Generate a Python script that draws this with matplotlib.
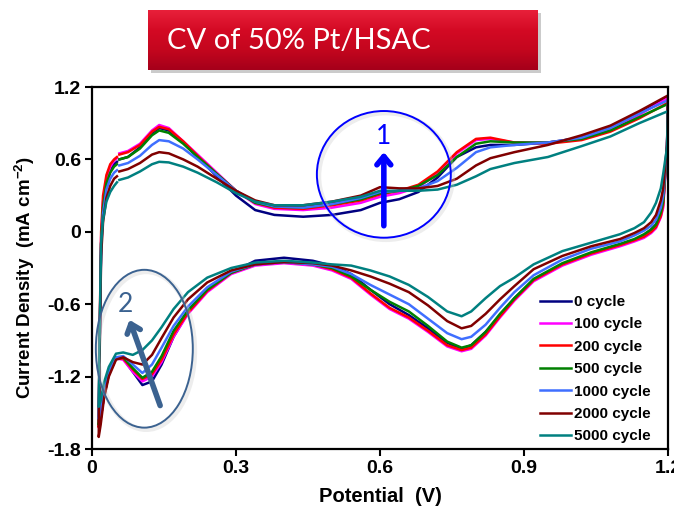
import numpy as np
import matplotlib
matplotlib.use("Agg")
import matplotlib.pyplot as plt
from matplotlib.patches import Ellipse
from matplotlib.colors import LinearSegmentedColormap

plt.rcParams['font.family'] = ['Liberation Sans', 'DejaVu Sans']
plt.rcParams['axes.unicode_minus'] = False
plt.rcParams['mathtext.fontset'] = 'custom'
plt.rcParams['mathtext.rm'] = 'Liberation Sans'
plt.rcParams['mathtext.bf'] = 'Liberation Sans:bold'

# ---------------- data ----------------
labels = ['0 cycle', '100 cycle', '200 cycle', '500 cycle', '1000 cycle', '2000 cycle', '5000 cycle']
colors = ['#000080', '#FF00FF', '#FF0000', '#008000', '#3F6FFF', '#800000', '#008080']

# anodic sweep, first short segment (before the small gap)
x_an1 = [0.016, 0.019, 0.023, 0.03, 0.038, 0.046, 0.052]
an1_0 = [-0.9, -0.1, 0.2, 0.40, 0.50, 0.56, 0.58]
an1_100 = [-0.9, -0.05, 0.25, 0.44, 0.54, 0.59, 0.61]
an1_200 = [-0.8, 0.0, 0.3, 0.47, 0.56, 0.60, 0.62]
an1_500 = [-0.9, -0.1, 0.2, 0.40, 0.49, 0.54, 0.56]
an1_1000 = [-0.95, -0.15, 0.15, 0.35, 0.44, 0.49, 0.51]
an1_2000 = [-1.0, -0.2, 0.08, 0.28, 0.38, 0.44, 0.46]
an1_5000 = [-0.8, -0.1, 0.1, 0.25, 0.33, 0.38, 0.41]

# anodic sweep, main segment
x_an2 = [0.057, 0.075, 0.1, 0.125, 0.14, 0.16, 0.19, 0.22, 0.26, 0.3, 0.34, 0.38, 0.44, 0.5,
         0.56, 0.6, 0.64, 0.68, 0.72, 0.76, 0.8, 0.83, 0.88, 0.95, 1.02, 1.08, 1.14, 1.2]
an2_0 = [0.60, 0.62, 0.70, 0.82, 0.86, 0.84, 0.74, 0.62, 0.46, 0.30, 0.18, 0.14, 0.125, 0.14,
         0.18, 0.24, 0.27, 0.33, 0.45, 0.62, 0.70, 0.72, 0.72, 0.74, 0.78, 0.86, 0.98, 1.12]
an2_100 = [0.65, 0.67, 0.73, 0.84, 0.885, 0.86, 0.75, 0.64, 0.49, 0.34, 0.23, 0.19, 0.18, 0.20,
           0.24, 0.29, 0.32, 0.37, 0.48, 0.65, 0.76, 0.77, 0.74, 0.74, 0.77, 0.85, 0.97, 1.11]
an2_200 = [0.64, 0.66, 0.72, 0.83, 0.87, 0.85, 0.75, 0.63, 0.48, 0.34, 0.24, 0.20, 0.19, 0.22,
           0.26, 0.31, 0.34, 0.39, 0.50, 0.66, 0.77, 0.78, 0.74, 0.73, 0.76, 0.83, 0.94, 1.07]
an2_500 = [0.60, 0.62, 0.69, 0.80, 0.84, 0.82, 0.73, 0.62, 0.48, 0.34, 0.24, 0.21, 0.20, 0.23,
           0.27, 0.32, 0.34, 0.38, 0.47, 0.62, 0.73, 0.75, 0.74, 0.74, 0.77, 0.84, 0.95, 1.06]
an2_1000 = [0.55, 0.57, 0.63, 0.72, 0.76, 0.75, 0.69, 0.60, 0.47, 0.34, 0.25, 0.21, 0.20, 0.23,
            0.28, 0.33, 0.34, 0.36, 0.42, 0.53, 0.66, 0.70, 0.72, 0.74, 0.78, 0.86, 0.98, 1.09]
an2_2000 = [0.50, 0.52, 0.57, 0.64, 0.66, 0.65, 0.60, 0.54, 0.44, 0.34, 0.26, 0.22, 0.22, 0.25,
            0.30, 0.37, 0.36, 0.36, 0.38, 0.44, 0.55, 0.61, 0.66, 0.72, 0.80, 0.88, 1.00, 1.13]
an2_5000 = [0.43, 0.45, 0.50, 0.56, 0.58, 0.575, 0.54, 0.49, 0.41, 0.32, 0.25, 0.22, 0.22, 0.25,
            0.29, 0.34, 0.34, 0.34, 0.35, 0.39, 0.46, 0.52, 0.57, 0.62, 0.71, 0.79, 0.90, 1.00]

# cathodic sweep
x_ca = [1.2, 1.198, 1.19, 1.185, 1.175, 1.165, 1.15, 1.13, 1.1, 1.04, 0.98, 0.92, 0.88, 0.85,
        0.82, 0.79, 0.77, 0.74, 0.7, 0.66, 0.62, 0.58, 0.54, 0.5, 0.46, 0.4, 0.34, 0.29, 0.24,
        0.2, 0.17, 0.145, 0.125, 0.105, 0.085, 0.065, 0.05, 0.035, 0.025, 0.018, 0.014]
ca_0 = [1.12, 0.70, 0.24, 0.15, 0.06, 0.02, -0.03, -0.07, -0.11, -0.18, -0.27, -0.40, -0.55,
        -0.69, -0.83, -0.94, -0.97, -0.92, -0.80, -0.69, -0.60, -0.48, -0.35, -0.28, -0.24,
        -0.215, -0.24, -0.34, -0.49, -0.67, -0.87, -1.10, -1.24, -1.27, -1.16, -1.05, -1.05,
        -1.18, -1.36, -1.55, -1.60]
ca_100 = [1.11, 0.70, 0.20, 0.12, 0.03, -0.01, -0.05, -0.08, -0.12, -0.19, -0.28, -0.41, -0.57,
          -0.71, -0.86, -0.97, -0.99, -0.95, -0.83, -0.72, -0.64, -0.52, -0.39, -0.32, -0.28,
          -0.26, -0.28, -0.35, -0.50, -0.68, -0.87, -1.08, -1.20, -1.24, -1.16, -1.06, -1.05,
          -1.18, -1.36, -1.55, -1.62]
ca_200 = [1.07, 0.70, 0.22, 0.13, 0.04, 0.0, -0.04, -0.07, -0.11, -0.18, -0.27, -0.40, -0.56,
          -0.70, -0.85, -0.96, -0.98, -0.94, -0.82, -0.71, -0.63, -0.51, -0.38, -0.31, -0.27,
          -0.25, -0.27, -0.34, -0.49, -0.67, -0.85, -1.06, -1.18, -1.22, -1.14, -1.05, -1.05,
          -1.18, -1.36, -1.55, -1.62]
ca_500 = [1.06, 0.70, 0.25, 0.16, 0.06, 0.02, -0.02, -0.06, -0.10, -0.17, -0.26, -0.39, -0.55,
          -0.68, -0.83, -0.94, -0.96, -0.91, -0.78, -0.66, -0.58, -0.48, -0.37, -0.30, -0.27,
          -0.25, -0.27, -0.34, -0.48, -0.65, -0.82, -1.03, -1.16, -1.21, -1.13, -1.04, -1.04,
          -1.17, -1.35, -1.52, -1.60]
ca_1000 = [1.09, 0.72, 0.30, 0.20, 0.10, 0.05, 0.01, -0.03, -0.08, -0.14, -0.23, -0.36, -0.50,
           -0.63, -0.77, -0.87, -0.89, -0.84, -0.72, -0.60, -0.52, -0.44, -0.35, -0.29, -0.27,
           -0.25, -0.27, -0.33, -0.46, -0.62, -0.78, -0.96, -1.10, -1.17, -1.10, -1.03, -1.04,
           -1.16, -1.33, -1.50, -1.55]
ca_2000 = [1.13, 0.72, 0.36, 0.26, 0.14, 0.08, 0.03, -0.01, -0.06, -0.12, -0.20, -0.31, -0.45,
           -0.56, -0.68, -0.78, -0.80, -0.74, -0.61, -0.50, -0.43, -0.37, -0.32, -0.28, -0.26,
           -0.25, -0.27, -0.32, -0.42, -0.56, -0.71, -0.88, -1.02, -1.10, -1.08, -1.04, -1.06,
           -1.20, -1.38, -1.60, -1.70]
ca_5000 = [1.00, 0.70, 0.48, 0.36, 0.24, 0.16, 0.08, 0.03, -0.02, -0.09, -0.16, -0.27, -0.38,
           -0.45, -0.55, -0.66, -0.70, -0.66, -0.54, -0.44, -0.37, -0.32, -0.28, -0.27, -0.255,
           -0.24, -0.255, -0.30, -0.38, -0.50, -0.64, -0.79, -0.90, -0.98, -1.02, -1.00, -1.01,
           -1.12, -1.25, -1.40, -1.45]

an1 = [an1_0, an1_100, an1_200, an1_500, an1_1000, an1_2000, an1_5000]
an2 = [an2_0, an2_100, an2_200, an2_500, an2_1000, an2_2000, an2_5000]
ca = [ca_0, ca_100, ca_200, ca_500, ca_1000, ca_2000, ca_5000]

xticks = [0, 0.3, 0.6, 0.9, 1.2]
xticklabels = ['0', '0.3', '0.6', '0.9', '1.2']
yticks = [-1.8, -1.2, -0.6, 0, 0.6, 1.2]
yticklabels = ['-1.8', '-1.2', '-0.6', '0', '0.6', '1.2']

# ---------------- figure ----------------
W, H = 674, 512
fig = plt.figure(figsize=(W / 100, H / 100), dpi=100)
ax = fig.add_axes([92 / W, 1 - 449 / H, (668 - 92) / W, (449 - 87) / H])

for i in range(len(labels)):
    xs = x_an2 + x_ca + x_an1
    ys = an2[i] + ca[i] + an1[i]
    ax.plot(xs, ys, color=colors[i], lw=1.8, label=labels[i], solid_joinstyle='round')

ax.set_xlim(0, 1.2)
ax.set_ylim(-1.8, 1.2)
ax.set_xticks(xticks)
ax.set_xticklabels(xticklabels)
ax.set_yticks(yticks)
ax.set_yticklabels(yticklabels)
for s in ax.spines.values():
    s.set_linewidth(1.6)
ax.tick_params(direction='out', length=5, width=1.5, labelsize=14, pad=3)
for lab in ax.get_xticklabels() + ax.get_yticklabels():
    lab.set_fontweight('bold')

fig.text(380 / W, 1 - 497 / H, 'Potential  (V)', fontsize=14.5, fontweight='bold',
         ha='center', va='center')
fig.text(25 / W, 1 - 278 / H, r'Current Density  (mA cm$^{\mathbf{-2}}$)', fontsize=13.5,
         fontweight='bold', ha='center', va='center', rotation=90)

leg = ax.legend(loc='upper left', bbox_to_anchor=((540 - 92) / 576, (449 - 295) / 362),
                frameon=False, prop={'weight': 'bold', 'size': 11}, handlelength=2.0,
                handletextpad=0.2, labelspacing=0.55, borderaxespad=0, borderpad=0)

# annotations: circle 1
ax.add_patch(Ellipse((0.612, 0.46), 0.279, 1.05, fill=False, ec='#CCCCCC', lw=3.5, alpha=0.35,
                     zorder=4))
ax.add_patch(Ellipse((0.608, 0.476), 0.279, 1.05, fill=False, ec='#0000FF', lw=1.4, zorder=5))
ax.text(0.608, 0.79, '1', color='#0000FF', fontsize=19, ha='center', va='center',
        family=['Lato', 'DejaVu Sans'])
ax.annotate('', xy=(0.608, 0.66), xytext=(0.608, 0.05),
            arrowprops=dict(arrowstyle='->,head_length=0.6,head_width=0.5', color='#0000FF',
                            lw=4.0, shrinkA=0, shrinkB=0), zorder=6)

# circle 2
c2 = '#3B6290'
ax.add_patch(Ellipse((0.113, -0.985), 0.202, 1.308, fill=False, ec='#CCCCCC', lw=3.5, alpha=0.35,
                     zorder=4))
ax.add_patch(Ellipse((0.109, -0.969), 0.202, 1.308, fill=False, ec=c2, lw=1.4, zorder=5))
ax.text(0.069, -0.60, '2', color=c2, fontsize=19, ha='center', va='center',
        family=['Lato', 'DejaVu Sans'])
ax.annotate('', xy=(0.078, -0.73), xytext=(0.142, -1.44),
            arrowprops=dict(arrowstyle='->,head_length=0.6,head_width=0.5', color=c2,
                            lw=4.0, shrinkA=0, shrinkB=0), zorder=6)

# ---------------- title box ----------------
bx0, bx1, by0, by1 = 148, 538, 10, 70
sax = fig.add_axes([(bx0 + 3) / W, 1 - (by1 + 3) / H, (bx1 - bx0) / W, (by1 - by0) / H])
sax.set_facecolor('#999999')
sax.patch.set_alpha(0.5)
sax.set_xticks([]); sax.set_yticks([])
for s in sax.spines.values():
    s.set_visible(False)
tax = fig.add_axes([bx0 / W, 1 - by1 / H, (bx1 - bx0) / W, (by1 - by0) / H])
grad = np.linspace(0, 1, 100).reshape(-1, 1)
cmap = LinearSegmentedColormap.from_list('r', ['#E8203A', '#D40A24', '#C4061E', '#A5001A'])
tax.imshow(grad, aspect='auto', cmap=cmap, extent=[0, 1, 0, 1], origin='upper')
tax.set_xlim(0, 1)
tax.set_ylim(0, 1)
tax.axis('off')
tax.text(19 / (bx1 - bx0), 0.48, 'CV of 50% Pt/HSAC', color='white', fontsize=21,
         ha='left', va='center', family=['Lato', 'DejaVu Sans'])

fig.savefig('out.png', dpi=100)
